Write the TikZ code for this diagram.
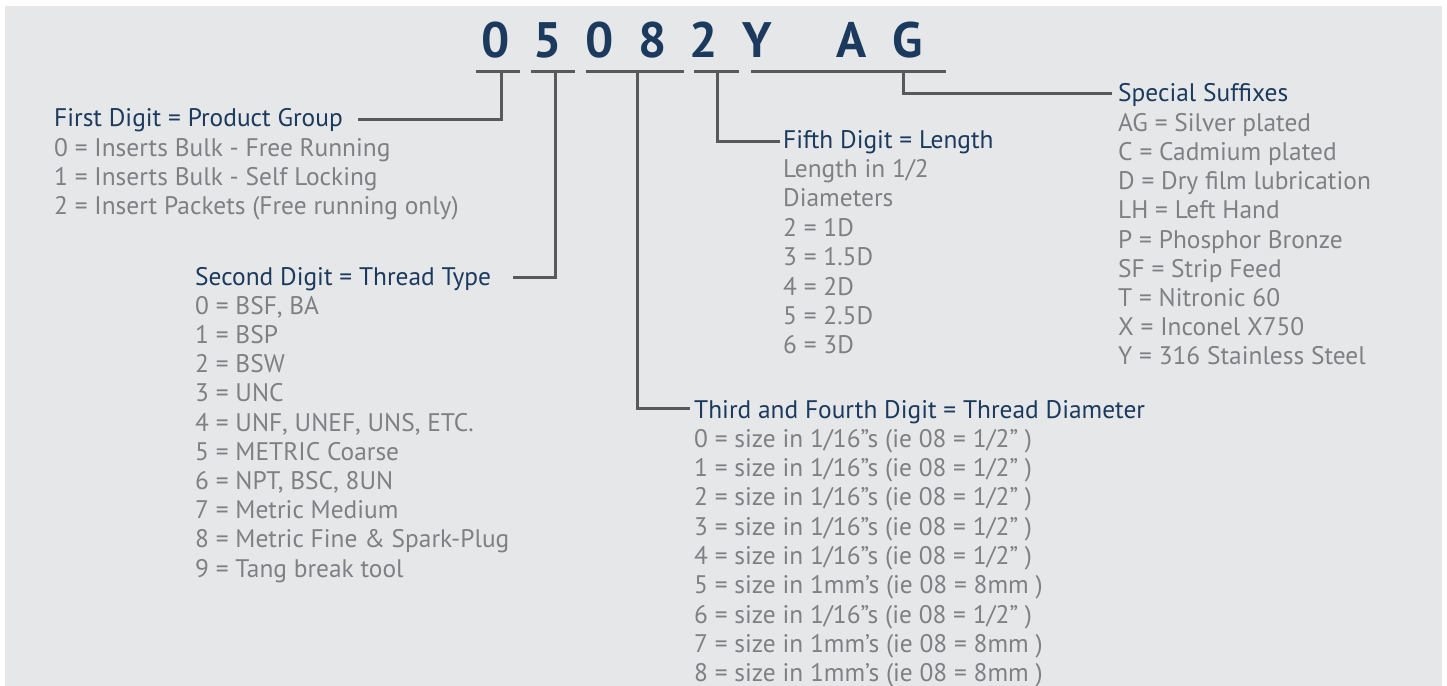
\documentclass[tikz,border=0pt]{standalone}
\usepackage{fontspec}
\setmainfont{PT Sans}
\definecolor{bg}{HTML}{E6E7E9}
\definecolor{navy}{HTML}{1B3A5E}
\definecolor{txtgray}{HTML}{7E8083}
\definecolor{linegray}{HTML}{58595B}
\begin{document}
\begin{tikzpicture}[x=1bp,y=-1bp,
  digit/.style={anchor=base,inner sep=0pt,text=navy,font=\fontsize{50}{50}\selectfont\bfseries},
  head/.style={anchor=base west,inner sep=0pt,text=navy,font=\fontsize{25.5}{29}\selectfont},
  item/.style={anchor=base west,inner sep=0pt,text=txtgray,font=\fontsize{25.5}{29}\selectfont},
  uline/.style={draw=linegray,line width=3bp},
  conn/.style={draw=linegray,line width=3bp}]
\useasboundingbox (0,0) rectangle (1447,686);
\fill[bg] (5,6) rectangle (1442,686);
% title digits
\node[digit] (d1) at (495.5,58) {0};
\node[digit] (d2) at (547.5,58) {5};
\node[digit] (d3) at (599.5,58) {0};
\node[digit] (d4) at (652.5,58) {8};
\node[digit] (d5) at (704,58) {2};
\node[digit] (d6) at (757.5,58) {Y};
\node[digit] (d7) at (852,58) {A};
\node[digit] (d8) at (908,58) {G};
% underlines
\draw[uline] (476,72) -- (520,72);
\draw[uline] (531,72) -- (575,72);
\draw[uline] (586,72) -- (684,72);
\draw[uline] (694,72) -- (739,72);
\draw[uline] (751,72) -- (946,72);
\coordinate (t1) at (501,72);
\coordinate (t2) at (555,72);
\coordinate (t3) at (637,72);
\coordinate (t4) at (717,72);
\coordinate (t5) at (903,72);
% block 1
\node[head] (h1) at (54,127) {First Digit = Product Group};
\foreach \t [count=\i] in {0 = Inserts Bulk - Free Running,1 = Inserts Bulk - Self Locking,2 = Insert Packets (Free running only)}
  \node[item] (a\i) at (54,127+29.3*\i) {\t};
% block 2
\node[head] (h2) at (195,285) {Second Digit = Thread Type};
\foreach \t [count=\i] in {0 = BSF{,} BA,1 = BSP,2 = BSW,3 = UNC,4 = UNF{,} UNEF{,} UNS{,} ETC.,5 = METRIC Coarse,6 = NPT{,} BSC{,} 8UN,7 = Metric Medium,8 = Metric Fine \& Spark-Plug,9 = Tang break tool}
  \node[item] (b\i) at (195,285+29.2*\i) {\t};
% block 3
\node[head] (h3) at (783,148) {Fifth Digit = Length};
\foreach \t [count=\i] in {Length in 1/2,Diameters,2 = 1D,3 = 1.5D,4 = 2D,5 = 2.5D,6 = 3D}
  \node[item] (c\i) at (783,148+29.4*\i) {\t};
% block 4
\node[head] (h4) at (694,418) {Third and Fourth Digit = Thread Diameter};
\foreach \t [count=\i] in {0 = size in 1/16"s (ie 08 = 1/2" ),1 = size in 1/16"s (ie 08 = 1/2" ),2 = size in 1/16"s (ie 08 = 1/2" ),3 = size in 1/16"s (ie 08 = 1/2" ),4 = size in 1/16"s (ie 08 = 1/2" ),5 = size in 1mm's (ie 08 = 8mm ),6 = size in 1/16"s (ie 08 = 1/2" ),7 = size in 1mm's (ie 08 = 8mm ),8 = size in 1mm's (ie 08 = 8mm )}
  \node[item] (e\i) at (694,418+29.3*\i) {\t};
% block 5
\node[head] (h5) at (1118,102) {Special Suffixes};
\foreach \t [count=\i] in {AG = Silver plated,C = Cadmium plated,D = Dry film lubrication,LH = Left Hand,P = Phosphor Bronze,SF = Strip Feed,T = Nitronic 60,X = Inconel X750,Y = 316 Stainless Steel}
  \node[item] (f\i) at (1118,102+29.2*\i) {\t};
% connector ends
\coordinate (k1) at (358,120);
\coordinate (k2) at (513,277);
\coordinate (k3) at (690,408);
\coordinate (k4) at (780,141);
\coordinate (k5) at (1112,94);
\draw[conn] (t1) |- (k1);
\draw[conn] (t2) |- (k2);
\draw[conn] (t3) |- (k3);
\draw[conn] (t4) |- (k4);
\draw[conn] (t5) |- (k5);
\end{tikzpicture}
\end{document}
